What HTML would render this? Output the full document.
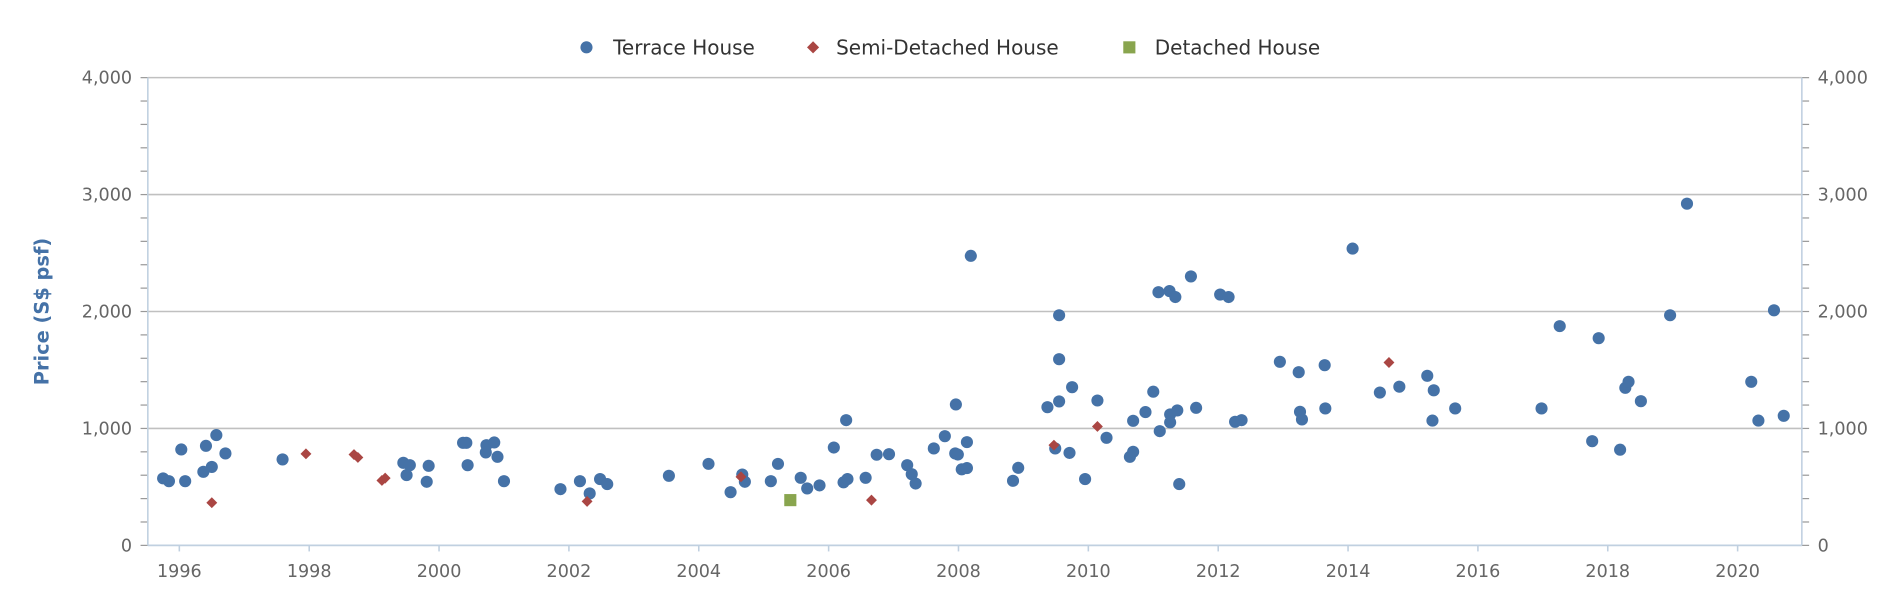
<!DOCTYPE html>
<html><head><meta charset="utf-8"><style>
html,body{margin:0;padding:0;background:#fff;}
svg{display:block;font-family:"DejaVu Sans","Liberation Sans",sans-serif;}
</style></head><body>
<svg id="chart" width="1900" height="600" viewBox="0 0 1568 495" xmlns="http://www.w3.org/2000/svg">
<g id="grid"></g>
<g id="axes"></g>
<g id="marks"></g>
<text transform="translate(40,257) rotate(-90)" text-anchor="middle" font-size="16" font-weight="bold" fill="#4572A7">Price (S$ psf)</text>
<g>
  <g><circle cx="484" cy="39" r="5" fill="#4572A7"/><text x="506" y="45" font-size="16.5" fill="#333">Terrace House</text></g>
  <g><path d="M671 34 L676 39 L671 44 L666 39 Z" fill="#AA4643"/><text x="690" y="45" font-size="16.5" fill="#333">Semi-Detached House</text></g>
  <g><rect x="927" y="34" width="10" height="10" fill="#89A54E"/><text x="953" y="45" font-size="16.5" fill="#333">Detached House</text></g>
</g>
</svg>
<script>
const terraceYears=[1995.75,1995.84,1996.03,1996.09,1996.37,1996.50,1996.41,1996.57,1996.71,1997.59,1999.45,1999.55,1999.50,1999.84,1999.81,2000.37,2000.42,2000.44,2000.73,2000.85,2000.72,2000.90,2001.00,2001.87,2002.17,2002.32,2002.48,2002.59,2003.54,2004.15,2004.49,2004.67,2004.71,2005.11,2005.22,2005.57,2005.67,2005.86,2006.08,2006.27,2006.23,2006.29,2006.57,2006.74,2006.93,2007.96,2007.21,2007.28,2007.34,2007.62,2007.79,2007.95,2007.99,2008.13,2008.05,2008.13,2008.19,2008.84,2008.92,2009.37,2009.49,2009.55,2009.55,2009.55,2009.75,2009.71,2009.95,2010.14,2010.28,2010.64,2010.69,2010.69,2010.88,2011.00,2011.10,2011.26,2011.37,2011.26,2011.40,2011.66,2011.08,2011.25,2011.34,2011.58,2012.03,2012.16,2012.26,2012.36,2012.95,2013.24,2013.26,2013.29,2013.64,2013.65,2014.07,2014.49,2014.79,2015.22,2015.32,2015.30,2015.65,2016.98,2017.26,2017.76,2017.86,2018.19,2018.27,2018.32,2018.51,2018.96,2019.22,2020.21,2020.32,2020.56,2020.71];
const terraceValues=[573,549,820,549,629,671,851,943,786,735,706,686,601,680,544,877,877,686,857,880,795,757,549,481,549,444,567,524,595,697,455,606,544,549,697,578,487,513,837,1071,539,567,578,775,780,1205,686,609,529,829,934,786,777,883,650,661,2476,552,663,1182,829,1231,1592,1968,1353,791,567,1239,920,757,800,1065,1140,1314,977,1120,1154,1052,524,1176,2165,2175,2124,2300,2145,2124,1057,1071,1570,1481,1142,1077,1541,1171,2538,1307,1357,1450,1326,1067,1171,1171,1875,891,1772,818,1347,1399,1233,1968,2922,1399,1067,2010,1108];
const semiYears=[1996.50,1997.95,1998.69,1998.75,1999.12,1999.17,2002.28,2004.65,2006.66,2009.47,2010.14,2014.63];
const semiValues=[365,783,777,752,555,575,376,586,387,857,1017,1564];
const detachedYears=[2005.41];
const detachedValues=[387];
const yTicks=[0,1000,2000,3000,4000];
const yTickLabels=["0","1,000","2,000","3,000","4,000"];
const xTicks=[1996,1998,2000,2002,2004,2006,2008,2010,2012,2014,2016,2018,2020];

const NS="http://www.w3.org/2000/svg";
const L=122,R=1487,T=64,B=450;
function xs(yr){return 148+(yr-1996)*(1434-148)/24;}
function ys(v){return B-(v/4000)*(B-T);}
function mk(tag,attrs,parent){const e=document.createElementNS(NS,tag);for(const k in attrs)e.setAttribute(k,attrs[k]);parent.appendChild(e);return e;}
const grid=document.getElementById('grid'),axes=document.getElementById('axes'),marks=document.getElementById('marks');

yTicks.forEach((v,i)=>{
  if(v>0){const g=mk('line',{x1:L,x2:R,y1:ys(v),y2:ys(v),stroke:'#c0c0c0','stroke-width':1.3},grid);
  
  }
  const t1=mk('text',{x:109,y:ys(v)+5,'text-anchor':'end','font-size':14.5,fill:'#666'},axes);t1.textContent=yTickLabels[i];
  
  
  const t2=mk('text',{x:1500,y:ys(v)+5,'text-anchor':'start','font-size':14.5,fill:'#666'},axes);t2.textContent=yTickLabels[i];
  
  
});
for(let v=0;v<=4000;v+=200){
  mk('line',{x1:L-6,x2:L,y1:ys(v),y2:ys(v),stroke:'#999','stroke-width':1},axes);
  mk('line',{x1:R,x2:R+6,y1:ys(v),y2:ys(v),stroke:'#999','stroke-width':1},axes);
}
const la=mk('line',{x1:L,x2:L,y1:T,y2:B,stroke:'#c0d0e0','stroke-width':1.3},axes);


const ra=mk('line',{x1:R,x2:R,y1:T,y2:B,stroke:'#c0d0e0','stroke-width':1.3},axes);


const xa=mk('line',{x1:L,x2:R,y1:B,y2:B,stroke:'#c0d0e0','stroke-width':1.5},axes);


xTicks.forEach(yr=>{
  mk('line',{x1:xs(yr),x2:xs(yr),y1:B,y2:B+5,stroke:'#c0d0e0','stroke-width':1.3},axes);
  const t=mk('text',{x:xs(yr),y:B+26,'text-anchor':'middle','font-size':14.5,fill:'#666'},axes);t.textContent=yr;
  
  
});
terraceYears.forEach((yr,i)=>{
  const c=mk('circle',{cx:xs(yr),cy:ys(terraceValues[i]),r:5,fill:'#4572A7'},marks);
  
  
});
semiYears.forEach((yr,i)=>{
  const x=xs(yr),y=ys(semiValues[i]);
  const p=mk('path',{d:`M${x} ${y-4.5} L${x+4.5} ${y} L${x} ${y+4.5} L${x-4.5} ${y} Z`,fill:'#AA4643'},marks);
  
  
});
detachedYears.forEach((yr,i)=>{
  const r=mk('rect',{x:xs(yr)-5,y:ys(detachedValues[i])-5,width:10,height:10,fill:'#89A54E'},marks);
  
  
});
</script>
</body></html>
